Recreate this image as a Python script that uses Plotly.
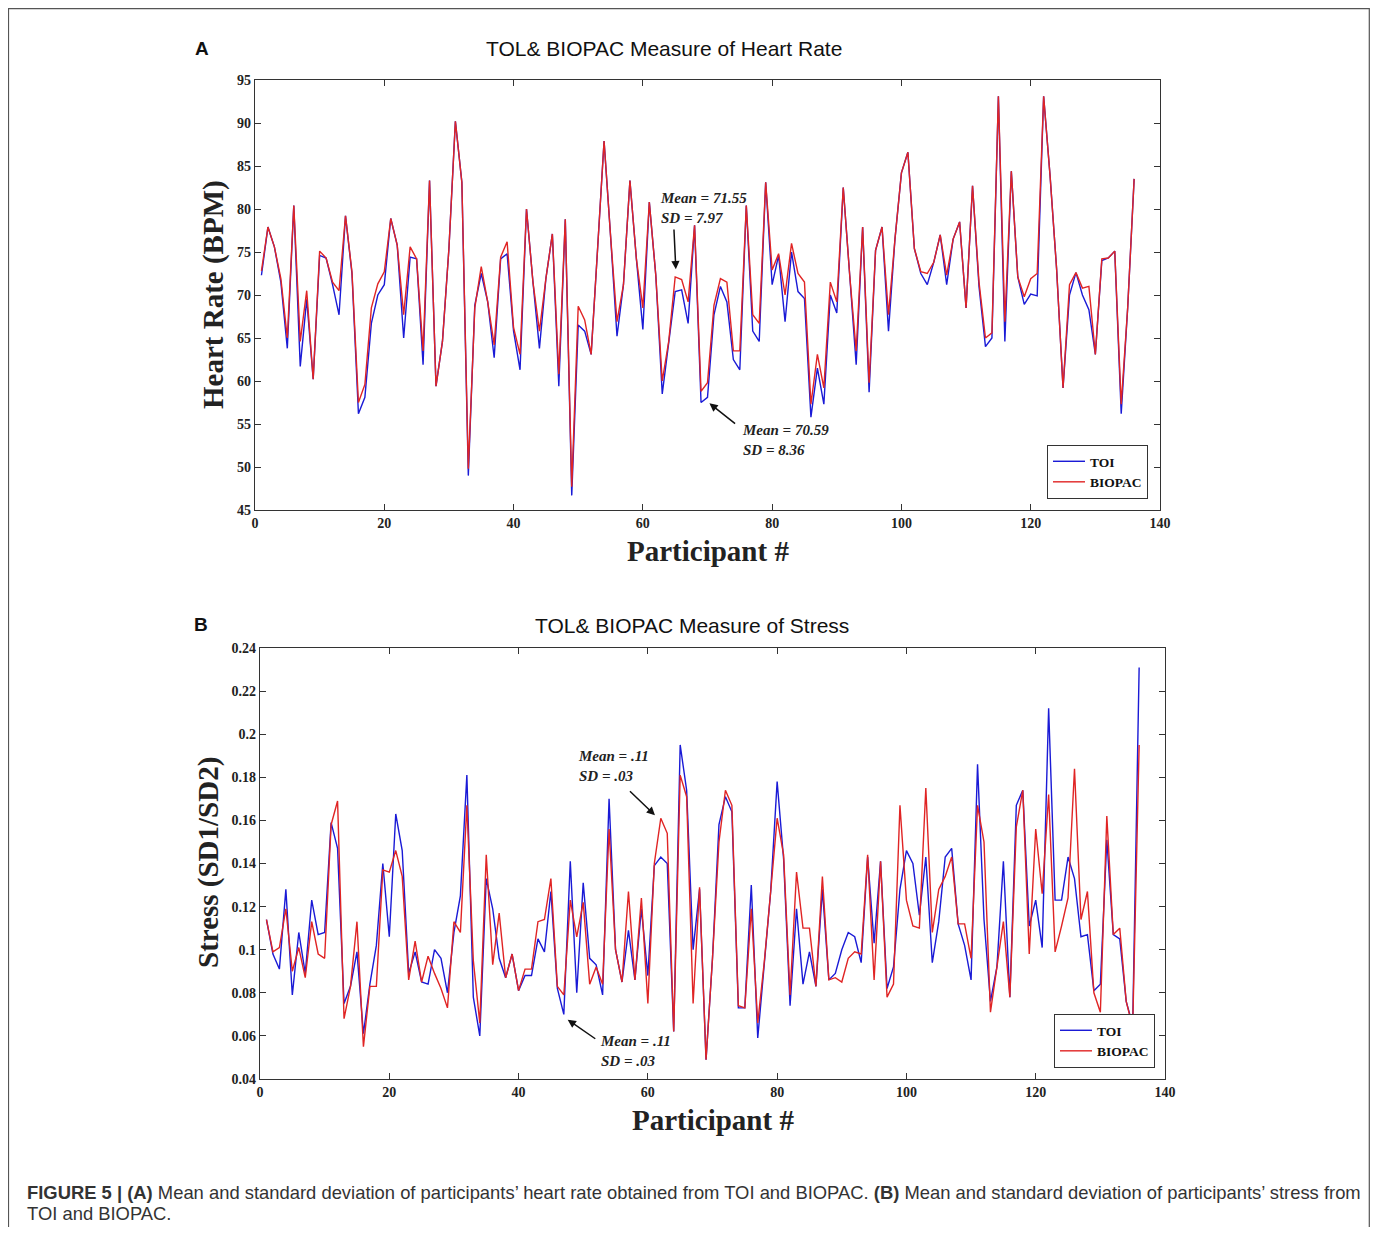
import plotly.graph_objects as go

# the page has an 8px body margin, so the figure fills the window minus that margin
W, H = 1362, 1219
OFF = 8

participants = list(range(1, 137))

hr_toi = [72.3, 77.9, 75.6, 71.5, 63.8, 80.4, 61.7, 69.5, 60.2, 74.6,
          74.3, 71.2, 67.7, 79.2, 72.5, 56.2, 58.1, 66.7, 70.0, 71.2,
          78.9, 75.8, 65.0, 74.4, 74.2, 61.9, 83.3, 59.4, 64.6, 75.4,
          90.2, 83.1, 49.0, 68.8, 72.5, 69.2, 62.7, 74.2, 74.8, 65.8,
          61.3, 80.0, 71.5, 63.8, 71.9, 77.1, 59.4, 78.8, 46.7, 66.5,
          65.8, 63.1, 75.4, 87.9, 76.9, 65.2, 71.2, 83.3, 74.2, 66.0,
          80.8, 72.3, 58.5, 64.6, 70.4, 70.6, 66.7, 78.1, 57.5, 58.1,
          67.7, 71.0, 69.2, 62.5, 61.3, 80.4, 65.8, 64.6, 83.1, 71.2,
          74.6, 66.9, 75.0, 70.4, 69.6, 55.8, 61.5, 57.3, 70.0, 67.9,
          82.5, 72.3, 61.9, 77.9, 58.7, 75.2, 77.9, 65.8, 76.5, 84.2,
          86.6, 75.4, 72.5, 71.2, 73.8, 77.0, 71.2, 76.5, 78.5, 68.5,
          82.7, 71.0, 64.0, 65.0, 93.1, 64.6, 84.4, 72.1, 68.9, 70.1,
          69.9, 93.1, 83.8, 73.1, 59.2, 70.0, 72.6, 70.0, 68.3, 63.1,
          74.0, 74.3, 75.1, 56.2, 68.5, 83.5]

hr_biopac = [72.8, 77.9, 75.6, 71.9, 65.0, 80.4, 64.6, 70.5, 60.2, 75.1,
             74.3, 71.5, 70.5, 79.2, 72.7, 57.5, 59.6, 68.5, 71.3, 72.7,
             78.9, 75.8, 67.7, 75.6, 74.2, 63.5, 83.3, 59.4, 64.6, 75.4,
             90.2, 83.1, 49.8, 68.5, 73.3, 69.2, 64.2, 74.4, 76.2, 66.2,
             63.1, 80.0, 71.5, 65.8, 71.9, 77.1, 60.8, 78.8, 47.7, 68.7,
             67.1, 63.1, 75.4, 87.9, 76.9, 66.9, 71.2, 83.3, 74.2, 68.5,
             80.8, 72.3, 60.0, 64.6, 72.1, 71.8, 69.2, 78.1, 58.8, 59.8,
             68.8, 71.9, 71.5, 63.5, 63.5, 80.4, 67.7, 66.7, 83.1, 72.9,
             74.8, 70.0, 76.0, 72.5, 71.5, 57.3, 63.1, 59.2, 71.5, 69.2,
             82.5, 72.3, 63.5, 77.9, 59.8, 75.2, 77.9, 67.7, 76.5, 84.2,
             86.6, 75.4, 72.7, 72.5, 73.8, 77.0, 72.3, 76.5, 78.5, 68.5,
             82.7, 71.5, 65.0, 65.6, 93.1, 66.9, 84.4, 72.1, 69.8, 71.9,
             72.5, 93.1, 83.8, 73.1, 59.2, 71.2, 72.6, 70.8, 71.0, 63.1,
             74.2, 74.3, 75.1, 57.3, 68.5, 83.5]

stress_toi = [0.114, 0.098, 0.091, 0.128, 0.079, 0.108, 0.089, 0.123, 0.107, 0.108,
              0.159, 0.147, 0.075, 0.083, 0.099, 0.061, 0.084, 0.102, 0.140, 0.106,
              0.163, 0.146, 0.089, 0.099, 0.085, 0.084, 0.100, 0.096, 0.080, 0.108,
              0.125, 0.181, 0.078, 0.060, 0.133, 0.119, 0.096, 0.087, 0.098, 0.081,
              0.088, 0.088, 0.105, 0.099, 0.127, 0.082, 0.070, 0.141, 0.080, 0.131,
              0.096, 0.093, 0.079, 0.170, 0.100, 0.085, 0.109, 0.086, 0.119, 0.088,
              0.139, 0.143, 0.140, 0.062, 0.195, 0.174, 0.100, 0.128, 0.049, 0.096,
              0.158, 0.171, 0.164, 0.073, 0.073, 0.130, 0.059, 0.094, 0.127, 0.178,
              0.142, 0.074, 0.119, 0.084, 0.099, 0.083, 0.128, 0.086, 0.089, 0.100,
              0.108, 0.106, 0.094, 0.143, 0.103, 0.141, 0.082, 0.092, 0.128, 0.146,
              0.140, 0.116, 0.143, 0.094, 0.113, 0.143, 0.147, 0.112, 0.102, 0.086,
              0.186, 0.114, 0.076, 0.092, 0.141, 0.078, 0.167, 0.174, 0.111, 0.123,
              0.101, 0.212, 0.123, 0.123, 0.143, 0.133, 0.106, 0.107, 0.081, 0.084,
              0.151, 0.107, 0.105, 0.076, 0.065, 0.231]

stress_biopac = [0.114, 0.099, 0.101, 0.119, 0.090, 0.101, 0.087, 0.113, 0.098, 0.096,
                 0.158, 0.169, 0.068, 0.083, 0.113, 0.055, 0.083, 0.083, 0.137, 0.136,
                 0.146, 0.134, 0.086, 0.104, 0.085, 0.097, 0.089, 0.082, 0.073, 0.113,
                 0.108, 0.167, 0.095, 0.066, 0.144, 0.093, 0.117, 0.087, 0.098, 0.081,
                 0.091, 0.091, 0.113, 0.114, 0.133, 0.083, 0.079, 0.123, 0.106, 0.122,
                 0.084, 0.092, 0.084, 0.156, 0.100, 0.085, 0.127, 0.086, 0.124, 0.075,
                 0.140, 0.161, 0.154, 0.062, 0.181, 0.171, 0.075, 0.129, 0.049, 0.096,
                 0.150, 0.174, 0.167, 0.074, 0.073, 0.119, 0.066, 0.094, 0.127, 0.161,
                 0.144, 0.079, 0.136, 0.110, 0.110, 0.083, 0.134, 0.086, 0.087, 0.085,
                 0.096, 0.099, 0.098, 0.144, 0.086, 0.141, 0.078, 0.084, 0.167, 0.123,
                 0.111, 0.110, 0.175, 0.108, 0.128, 0.134, 0.143, 0.112, 0.112, 0.096,
                 0.167, 0.150, 0.071, 0.092, 0.113, 0.078, 0.157, 0.174, 0.098, 0.156,
                 0.126, 0.172, 0.099, 0.111, 0.124, 0.184, 0.114, 0.127, 0.080, 0.071,
                 0.162, 0.107, 0.110, 0.076, 0.064, 0.195]

x_ticks = [0, 20, 40, 60, 80, 100, 120, 140]
hr_ticks = [45, 50, 55, 60, 65, 70, 75, 80, 85, 90, 95]
stress_ticks = [0.04, 0.06, 0.08, 0.10, 0.12, 0.14, 0.16, 0.18, 0.20, 0.22, 0.24]
stress_tick_labels = ["0.04", "0.06", "0.08", "0.1", "0.12", "0.14", "0.16", "0.18", "0.2", "0.22", "0.24"]

BLUE = "#1a1ad6"
RED = "#e02424"
AX = "#333333"
SERIF = "Liberation Serif"
SANS = "Liberation Sans"


def px(x):
    return (x - OFF) / W


def py(y):
    return 1 - (y - OFF) / H


fig = go.Figure()

fig.add_trace(go.Scatter(x=participants, y=hr_toi, mode="lines", name="TOI",
                         line=dict(color=BLUE, width=1.4), xaxis="x", yaxis="y", legend="legend"))
fig.add_trace(go.Scatter(x=participants, y=hr_biopac, mode="lines", name="BIOPAC",
                         line=dict(color=RED, width=1.4), xaxis="x", yaxis="y", legend="legend"))
fig.add_trace(go.Scatter(x=participants, y=stress_toi, mode="lines", name="TOI",
                         line=dict(color=BLUE, width=1.4), xaxis="x2", yaxis="y2", legend="legend2"))
fig.add_trace(go.Scatter(x=participants, y=stress_biopac, mode="lines", name="BIOPAC",
                         line=dict(color=RED, width=1.4), xaxis="x2", yaxis="y2", legend="legend2"))

tickfont = dict(family=SERIF, size=14, color="#222", weight="bold")
common = dict(showline=True, linecolor=AX, linewidth=1.2, mirror="ticks", ticks="inside",
              ticklen=6, tickwidth=1.2, tickcolor=AX, showgrid=False, zeroline=False,
              tickfont=tickfont)

legend_common = dict(bgcolor="white", bordercolor="#333", borderwidth=1,
                     font=dict(family=SERIF, size=13.5, color="#111", weight="bold"),
                     tracegroupgap=0, itemwidth=32)

fig.update_layout(
    width=W, height=H, margin=dict(l=0, r=0, t=0, b=0, autoexpand=False),
    paper_bgcolor="white", plot_bgcolor="white",
    xaxis=dict(domain=[px(255), px(1160)], range=[0, 140], tickvals=x_ticks, anchor="y", **common),
    yaxis=dict(domain=[py(510), py(80)], range=[45, 95], tickvals=hr_ticks, anchor="x", **common),
    xaxis2=dict(domain=[px(260), px(1165)], range=[0, 140], tickvals=x_ticks, anchor="y2", **common),
    yaxis2=dict(domain=[py(1079), py(648)], range=[0.04, 0.24], tickvals=stress_ticks,
                ticktext=stress_tick_labels, anchor="x2", **common),
    legend=dict(x=px(1148), y=py(499), xanchor="right", yanchor="bottom", **legend_common),
    legend2=dict(x=px(1155), y=py(1068), xanchor="right", yanchor="bottom", **legend_common),
    showlegend=True,
)


def label(text, x, y, font, xanchor="center", yanchor="middle", angle=0, align="center"):
    return dict(text=text, x=px(x), y=py(y), xref="paper", yref="paper", showarrow=False,
                xanchor=xanchor, yanchor=yanchor, textangle=angle, align=align, font=font)


ann = []
ann.append(label("<b>A</b>", 202, 48, dict(family=SANS, size=19, color="#111")))
ann.append(label("TOL& BIOPAC Measure of Heart Rate", 664, 49, dict(family=SANS, size=21, color="#111")))
ann.append(label("<b>B</b>", 201, 624, dict(family=SANS, size=19, color="#111")))
ann.append(label("TOL& BIOPAC Measure of Stress", 692, 625, dict(family=SANS, size=21, color="#111")))

atf = dict(family=SERIF, size=29, color="#222", weight="bold")
ann.append(label("Heart Rate (BPM)", 213, 295, atf, angle=-90))
ann.append(label("Participant #", 708, 551, atf))
ann.append(label("Stress (SD1/SD2)", 208, 863, atf, angle=-90))
ann.append(label("Participant #", 713, 1120, atf))

nf = dict(family=SERIF, size=15, color="#222", weight="bold", style="italic")
notes = [
    ("Mean = 71.55<br>SD = 7.97", 658, 208),
    ("Mean = 70.59<br>SD = 8.36", 740, 440),
    ("Mean = .11<br>SD = .03", 576, 766),
    ("Mean = .11<br>SD = .03", 598, 1051),
]
for t, xx, yy in notes:
    ann.append(label(t, xx, yy, nf, xanchor="left", align="left"))

arrows = [
    ("x", "y", 65.1, 73.0, 64.8, 77.8),
    ("x", "y", 70.3, 57.4, 74.5, 54.9),
    ("x2", "y2", 61.1, 0.1624, 57.0, 0.1742),
    ("x2", "y2", 47.6, 0.0675, 52.1, 0.0582),
]
for xr, yr, hx, hy, tx, ty in arrows:
    ann.append(dict(text="", x=hx, y=hy, ax=tx, ay=ty, xref=xr, yref=yr, axref=xr, ayref=yr,
                    showarrow=True, arrowhead=2, arrowsize=1.1, arrowwidth=1.5, arrowcolor="#111"))

cf = dict(family=SANS, size=18.4, color="#333")
ann.append(label("<b>FIGURE 5 | (A)</b> Mean and standard deviation of participants\u2019 heart rate obtained from TOI and BIOPAC. "
                 "<b>(B)</b> Mean and standard deviation of participants\u2019 stress from",
                 25, 1192, cf, xanchor="left", align="left"))
ann.append(label("TOI and BIOPAC.", 25, 1213, cf, xanchor="left", align="left"))

fig.update_layout(annotations=ann)

fig.add_shape(type="rect", xref="paper", yref="paper", x0=0.5 / W, x1=(W - 0.7) / W, y0=-0.05, y1=1 - 0.6 / H,
              line=dict(color="#555", width=1.2), fillcolor="rgba(0,0,0,0)", layer="below")

fig.write_html("out.html")
